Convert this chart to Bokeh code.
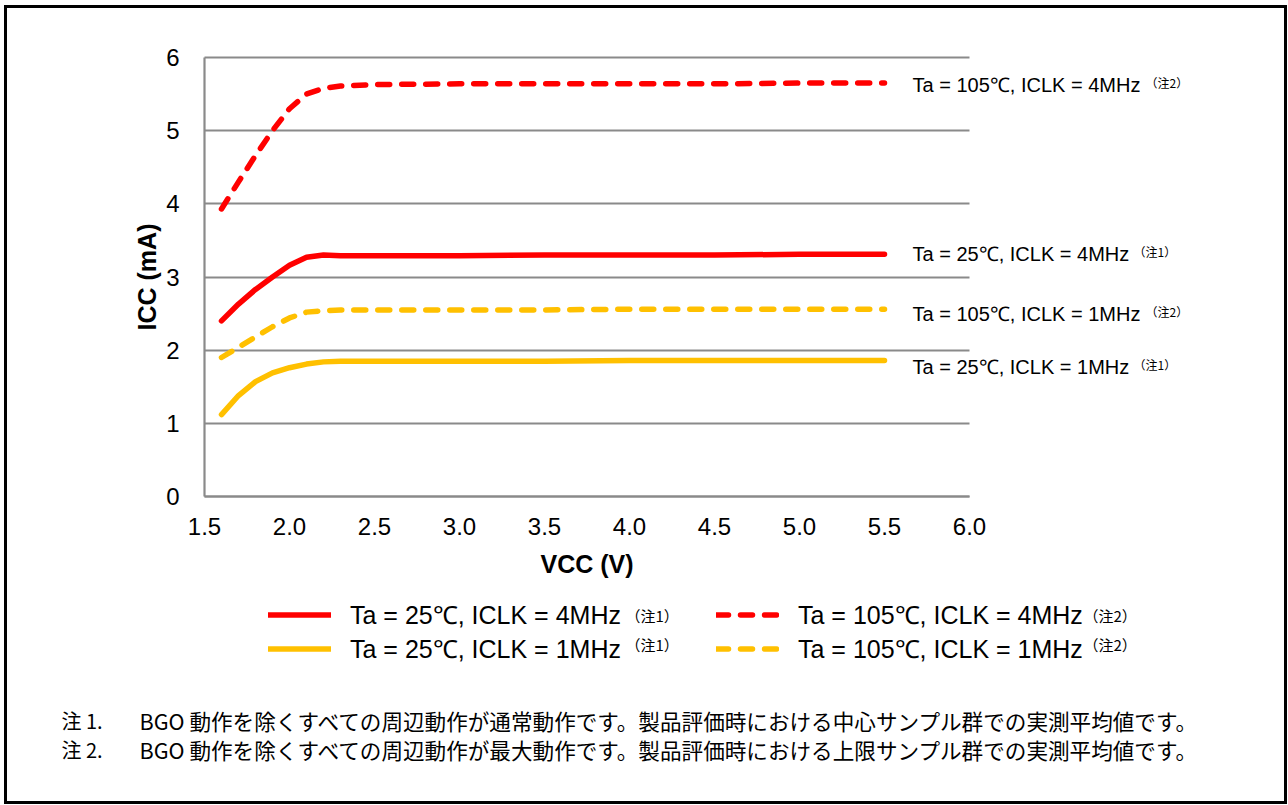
from bokeh.plotting import figure
from bokeh.models import (Range1d, FixedTicker, PrintfTickFormatter, Label,
                          Legend, LegendItem)
from bokeh.embed import file_html
from bokeh.resources import INLINE

# ---------------- data ----------------
vcc = [1.6, 1.7, 1.8, 1.9, 2.0, 2.1, 2.2, 2.3, 2.5, 3.0, 3.5, 4.0, 4.5, 5.0, 5.5]
icc_25c_4mhz = [2.40, 2.63, 2.83, 3.00, 3.16, 3.27, 3.30, 3.29, 3.29, 3.29, 3.30, 3.30, 3.30, 3.31, 3.31]
icc_105c_4mhz = [3.93, 4.30, 4.66, 5.00, 5.30, 5.50, 5.58, 5.61, 5.63, 5.64, 5.64, 5.64, 5.64, 5.65, 5.65]
icc_105c_1mhz = [1.90, 2.04, 2.18, 2.32, 2.44, 2.52, 2.54, 2.55, 2.55, 2.55, 2.55, 2.56, 2.56, 2.56, 2.56]
icc_25c_1mhz = [1.12, 1.38, 1.57, 1.69, 1.76, 1.81, 1.84, 1.85, 1.85, 1.85, 1.85, 1.86, 1.86, 1.86, 1.86]

x_ticks = [1.5, 2.0, 2.5, 3.0, 3.5, 4.0, 4.5, 5.0, 5.5, 6.0]
y_ticks = [0, 1, 2, 3, 4, 5, 6]
x_lim = (1.5, 6.0)
y_lim = (0, 6)

label_25_4 = "Ta = 25℃, ICLK = 4MHz"
label_25_1 = "Ta = 25℃, ICLK = 1MHz"
label_105_4 = "Ta = 105℃, ICLK = 4MHz"
label_105_1 = "Ta = 105℃, ICLK = 1MHz"
note_1 = "（注1）"
note_2 = "（注2）"
footnote_heads = ["注 1.", "注 2."]
footnote_texts = [
    "BGO 動作を除くすべての周辺動作が通常動作です。製品評価時における中心サンプル群での実測平均値です。",
    "BGO 動作を除くすべての周辺動作が最大動作です。製品評価時における上限サンプル群での実測平均値です。",
]

RED = "#FF0000"
YEL = "#FFC000"
GRID = "#8A8A8A"
FONT = "Liberation Sans"
JFONT = "Noto Sans CJK JP"

# ---------------- layout geometry (page pixels) ----------------
CX, CY = 7, 8            # canvas top-left on the page
W, H = 1277, 793         # canvas size
PX0, PX1 = 204, 969      # page x of x_lim
PY0, PY1 = 496, 57       # page y of y_lim
sx = (PX1 - PX0) / (x_lim[1] - x_lim[0])
sy = (PY0 - PY1) / (y_lim[1] - y_lim[0])
xr = Range1d(x_lim[0] - (PX0 - CX) / sx, x_lim[0] - (PX0 - CX) / sx + W / sx)
yr_top = y_lim[1] + (PY1 - CY) / sy
yr = Range1d(yr_top - H / sy, yr_top)

def X(px):
    return x_lim[0] + (px - PX0) / sx

def Y(py):
    return y_lim[0] + (PY0 - py) / sy

p = figure(frame_width=W, frame_height=H,
           min_border_left=0, min_border_top=0, min_border_right=0, min_border_bottom=0,
           x_range=xr, y_range=yr,
           output_backend="svg", toolbar_location=None,
           background_fill_color="white", border_fill_color="white")
p.title.visible = False
p.styles = {"border": "3px solid black", "margin": "5px 0 0 4px"}
p.outline_line_color = None
p.xgrid.visible = False
p.ygrid.ticker = FixedTicker(ticks=y_ticks)
p.ygrid.grid_line_color = GRID
p.ygrid.grid_line_width = 2.2
p.ygrid.cross_bounds = x_lim

p.xaxis.ticker = FixedTicker(ticks=x_ticks)
p.xaxis.formatter = PrintfTickFormatter(format="%.1f")
p.yaxis.ticker = FixedTicker(ticks=y_ticks)
p.xaxis.fixed_location = y_lim[0]
p.yaxis.fixed_location = x_lim[0]
p.xaxis.bounds = x_lim
p.yaxis.bounds = y_lim
for ax in (p.xaxis, p.yaxis):
    ax.axis_line_color = GRID
    ax.axis_line_width = 2.2
    ax.major_tick_line_color = None
    ax.minor_tick_line_color = None
    ax.major_tick_out = 0
    ax.major_tick_in = 0
    ax.minor_tick_out = 0
    ax.minor_tick_in = 0
    ax.major_label_text_font = FONT
    ax.major_label_text_font_size = "24px"
    ax.major_label_text_color = "black"
    ax.axis_label_text_font = FONT
    ax.axis_label_text_font_size = "25px"
    ax.axis_label_text_font_style = "bold"
    ax.axis_label_text_color = "black"
p.xaxis.axis_label = "VCC (V)"
p.yaxis.axis_label = "ICC (mA)"
p.xaxis.major_label_standoff = 21
p.xaxis.axis_label_standoff = 12
p.yaxis.major_label_standoff = 25
p.yaxis.axis_label_standoff = 2

common = dict(line_width=5.5, line_cap="round", line_join="round")
r_y1 = p.line(vcc, icc_25c_1mhz, line_color=YEL, **common)
r_y105 = p.line(vcc, icc_105c_1mhz, line_color=YEL, line_dash="12 12", **common)
r_r1 = p.line(vcc, icc_25c_4mhz, line_color=RED, **common)
r_r105 = p.line(vcc, icc_105c_4mhz, line_color=RED, line_dash="12 12", **common)

def lab(x, y, t, size, font=FONT):
    p.add_layout(Label(x=X(x), y=Y(y), text=t, text_font=font,
                       text_font_size=size, text_align="left",
                       text_baseline="middle", text_color="black"))

# right-side series labels
for text, note, ty, nx in [(label_105_4, note_2, 84, 1145),
                           (label_25_4, note_1, 253, 1133),
                           (label_105_1, note_2, 313, 1145),
                           (label_25_1, note_1, 366, 1133)]:
    lab(912, ty, text, "20px")
    lab(nx, ty - 2, note, "12px", font=JFONT)

# legends (two columns)
leg_top, leg_h = 607, 58
leg_common = dict(glyph_width=63, glyph_height=29, label_standoff=19,
                  label_text_font=FONT, label_text_font_size="25px",
                  label_text_color="black",
                  label_height=29, spacing=0, padding=0, margin=0,
                  border_line_color=None, background_fill_alpha=0)
vy = (CY + H) - (leg_top + leg_h)
legA = Legend(items=[LegendItem(label=label_25_4, renderers=[r_r1]),
                     LegendItem(label=label_25_1, renderers=[r_y1])],
              location=(268 - CX, vy), **leg_common)
legB = Legend(items=[LegendItem(label=label_105_4, renderers=[r_r105]),
                     LegendItem(label=label_105_1, renderers=[r_y105])],
              location=(716 - CX, vy), **leg_common)
p.add_layout(legA, "center")
p.add_layout(legB, "center")
lab(625, 615, note_1, "15px", font=JFONT)
lab(625, 644, note_1, "15px", font=JFONT)
lab(1083, 615, note_2, "15px", font=JFONT)
lab(1083, 644, note_2, "15px", font=JFONT)

# footnotes
for head, body, ty in zip(footnote_heads, footnote_texts, [720, 749]):
    lab(61, ty, head, "20px", font=JFONT)
    lab(139, ty, body, "21.6px", font=JFONT)

open("out.html", "w").write(file_html(p, INLINE))
